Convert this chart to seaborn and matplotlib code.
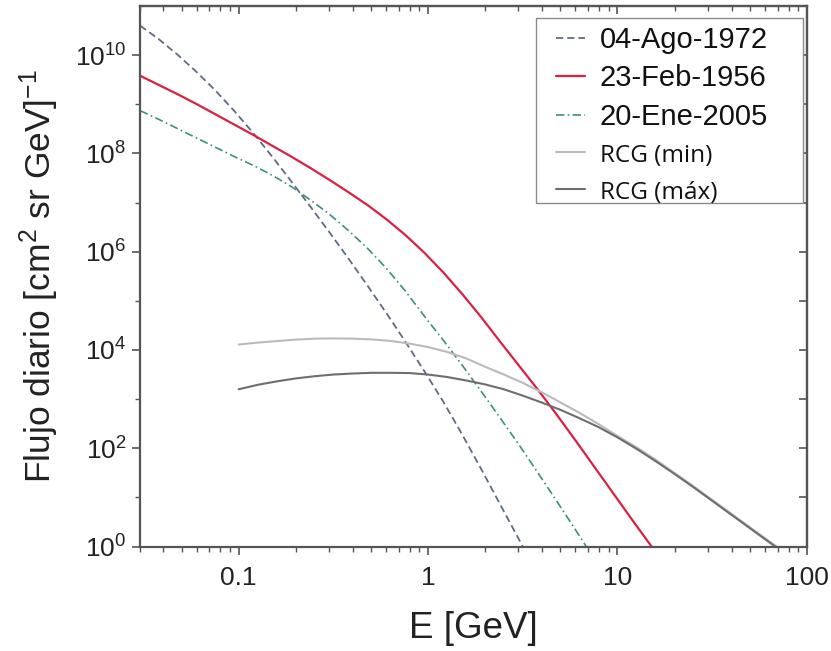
import numpy as np
import pandas as pd
import matplotlib
matplotlib.use("Agg")
import matplotlib.pyplot as plt
import seaborn as sns
from matplotlib.patches import Rectangle
from matplotlib.ticker import FixedLocator, FixedFormatter, NullFormatter, NullLocator

# Daily proton flux [cm^2 sr GeV]^-1 versus energy E [GeV].
# Values are given as log10(E) and log10(flux), as read on the log-log axes.

# 04-Ago-1972 event
logE_ago1972 = [-1.52, -1.42, -1.32, -1.22, -1.12, -1.02, -0.92, -0.82, -0.72,
                -0.62, -0.52, -0.42, -0.32, -0.22, -0.12, -0.02, 0.08, 0.18,
                0.28, 0.38, 0.50]
logF_ago1972 = [10.60, 10.32, 10.00, 9.65, 9.27, 8.85, 8.40, 7.92, 7.42,
                6.91, 6.39, 5.86, 5.31, 4.75, 4.17, 3.57, 2.95, 2.28,
                1.58, 0.86, 0.00]

# 23-Feb-1956 event
logE_feb1956 = [-1.52, -1.42, -1.32, -1.22, -1.12, -1.02, -0.92, -0.82, -0.72,
                -0.62, -0.52, -0.42, -0.32, -0.22, -0.12, -0.02, 0.08, 0.18,
                0.28, 0.38, 0.48, 0.58, 0.68, 0.78, 0.88, 0.98, 1.08, 1.18]
logF_feb1956 = [9.58, 9.39, 9.20, 9.00, 8.79, 8.58, 8.37, 8.15, 7.93,
                7.70, 7.46, 7.21, 6.95, 6.66, 6.34, 5.98, 5.58, 5.14,
                4.67, 4.17, 3.68, 3.19, 2.68, 2.15, 1.61, 1.07, 0.53, 0.00]

# 20-Ene-2005 event
logE_ene2005 = [-1.52, -1.42, -1.32, -1.22, -1.12, -1.02, -0.92, -0.82, -0.72,
                -0.62, -0.52, -0.42, -0.32, -0.22, -0.12, -0.02, 0.08, 0.18,
                0.28, 0.38, 0.48, 0.58, 0.68, 0.78, 0.835]
logF_ene2005 = [8.87, 8.69, 8.50, 8.31, 8.12, 7.93, 7.75, 7.55, 7.32,
                7.05, 6.76, 6.43, 6.07, 5.66, 5.20, 4.69, 4.20, 3.69,
                3.16, 2.62, 2.07, 1.50, 0.92, 0.33, 0.00]

# Galactic cosmic rays (RCG), solar minimum
logE_rcg_min = [-1.0, -0.9, -0.8, -0.7, -0.6, -0.5, -0.4, -0.3, -0.2, -0.1,
                0.0, 0.1, 0.2, 0.3, 0.4, 0.5, 0.6, 0.7, 0.8, 0.9, 1.0, 1.1,
                1.2, 1.3, 1.4, 1.5, 1.6, 1.7, 1.8, 1.84]
logF_rcg_min = [4.11, 4.15, 4.18, 4.21, 4.23, 4.235, 4.23, 4.215, 4.185, 4.13,
                4.06, 3.96, 3.83, 3.66, 3.50, 3.33, 3.14, 2.93, 2.72, 2.49,
                2.25, 2.02, 1.77, 1.50, 1.23, 0.95, 0.67, 0.39, 0.11, 0.00]

# Galactic cosmic rays (RCG), solar maximum
logE_rcg_max = [-1.0, -0.9, -0.8, -0.7, -0.6, -0.5, -0.4, -0.3, -0.2, -0.1,
                0.0, 0.1, 0.2, 0.3, 0.4, 0.5, 0.6, 0.7, 0.8, 0.9, 1.0, 1.1,
                1.2, 1.3, 1.4, 1.5, 1.6, 1.7, 1.8, 1.833]
logF_rcg_max = [3.20, 3.29, 3.36, 3.42, 3.465, 3.50, 3.52, 3.535, 3.535, 3.53,
                3.50, 3.45, 3.38, 3.30, 3.20, 3.07, 2.93, 2.78, 2.61, 2.43,
                2.22, 1.99, 1.74, 1.48, 1.21, 0.93, 0.65, 0.37, 0.09, 0.00]

labels = ["04-Ago-1972", "23-Feb-1956", "20-Ene-2005", "RCG (min)", "RCG (máx)"]
x_ticks = [0.1, 1, 10, 100]
x_ticklabels = ["0.1", "1", "10", "100"]

sns.set_style("ticks")
plt.rcParams["font.family"] = ["Liberation Sans", "DejaVu Sans"]
plt.rcParams["mathtext.fontset"] = "custom"
plt.rcParams["mathtext.rm"] = "Liberation Sans"
plt.rcParams["mathtext.it"] = "Liberation Sans:italic"
plt.rcParams["mathtext.default"] = "regular"

W, H = 831, 651
fig = plt.figure(figsize=(W / 100, H / 100), dpi=100)
ax = fig.add_axes([0.168, 0.1605, 0.803, 0.8303])

series = [
    (logE_ago1972, logF_ago1972, "#5f6b82", (0, (4, 2.2)), 1.3),
    (logE_feb1956, logF_feb1956, "#d8223f", "-", 1.6),
    (logE_ene2005, logF_ene2005, "#3d9080", (0, (5, 2, 1, 2)), 1.2),
    (logE_rcg_min, logF_rcg_min, "#bababa", "-", 1.5),
    (logE_rcg_max, logF_rcg_max, "#6e6e6e", "-", 1.5),
]

for (le, lf, color, ls, lw), lab in zip(series, labels):
    df = pd.DataFrame({"E": np.power(10.0, le), "F": np.power(10.0, lf)})
    sns.lineplot(data=df, x="E", y="F", ax=ax, color=color, linestyle=ls,
                 linewidth=lw, label=lab, sort=False, estimator=None)

ax.set_xscale("log")
ax.set_yscale("log")
ax.set_xlim(0.03, 100)
ax.set_ylim(1, 1e11)

# y axis: labelled even decades, short ticks at odd decades
ax.yaxis.set_major_locator(FixedLocator([10.0 ** k for k in range(0, 11, 2)]))
ax.yaxis.set_minor_locator(FixedLocator([10.0 ** k for k in range(1, 11, 2)]))
ax.yaxis.set_minor_formatter(NullFormatter())

x_minor = [m * 10.0 ** k for k in range(-2, 2) for m in range(2, 10)]
ax.xaxis.set_major_locator(FixedLocator(x_ticks))
ax.xaxis.set_major_formatter(FixedFormatter(x_ticklabels))
ax.xaxis.set_minor_locator(FixedLocator(x_minor))
ax.xaxis.set_minor_formatter(NullFormatter())

spine_color = "#555555"
for sp in ax.spines.values():
    sp.set_visible(True)
    sp.set_color(spine_color)
    sp.set_linewidth(1.6)

ax.tick_params(axis="both", which="major", direction="out", length=6,
               width=1.2, color=spine_color, labelsize=19, labelcolor="#222222")
ax.tick_params(axis="both", which="minor", direction="out", length=3.5,
               width=1.0, color=spine_color)
ax.tick_params(axis="x", which="major", pad=8)

# inward ticks on the top and right frame
secx = ax.secondary_xaxis("top")
secx.xaxis.set_major_locator(FixedLocator(x_ticks))
secx.xaxis.set_minor_locator(FixedLocator(x_minor))
secx.xaxis.set_major_formatter(NullFormatter())
secx.xaxis.set_minor_formatter(NullFormatter())
secx.tick_params(which="major", direction="in", length=6, width=1.2, color=spine_color)
secx.tick_params(which="minor", direction="in", length=3.5, width=1.0, color=spine_color)
secx.spines["top"].set_color(spine_color)
secx.spines["top"].set_linewidth(1.6)

secy = ax.secondary_yaxis("right")
secy.yaxis.set_major_locator(FixedLocator([10.0 ** k for k in range(0, 12)]))
secy.yaxis.set_minor_locator(NullLocator())
secy.yaxis.set_major_formatter(NullFormatter())
secy.tick_params(which="major", direction="in", length=6, width=1.2, color=spine_color)
secy.spines["right"].set_color(spine_color)
secy.spines["right"].set_linewidth(1.6)

ax.set_xlabel("E [GeV]", fontsize=26.5, color="#222222", labelpad=15)
ax.set_ylabel(r"Flujo diario [cm$^2$ sr GeV]$^{-1}$", fontsize=25.5,
              color="#222222", labelpad=10)

# legend box drawn as its own rectangle, entries placed inside it
frame = Rectangle((536 / W, 1 - 203 / H), 267 / W, 185 / H,
                  transform=fig.transFigure, facecolor="white",
                  edgecolor="#8a8a8a", linewidth=1.0, zorder=5, clip_on=False)
ax.add_patch(frame)

leg = ax.legend(loc="upper left", bbox_to_anchor=(556 / W, 1 - 26 / H),
                bbox_transform=fig.transFigure, borderaxespad=0, borderpad=0,
                fontsize=21, frameon=False, handlelength=1.0,
                handletextpad=0.5, labelspacing=0.36)
leg.set_zorder(6)
for t in leg.get_texts():
    t.set_color("#111111")
for t in leg.get_texts()[3:]:
    t.set_fontfamily(["Open Sans", "DejaVu Sans"])
    t.set_fontsize(17.5)

fig.savefig("out.png", dpi=100)
